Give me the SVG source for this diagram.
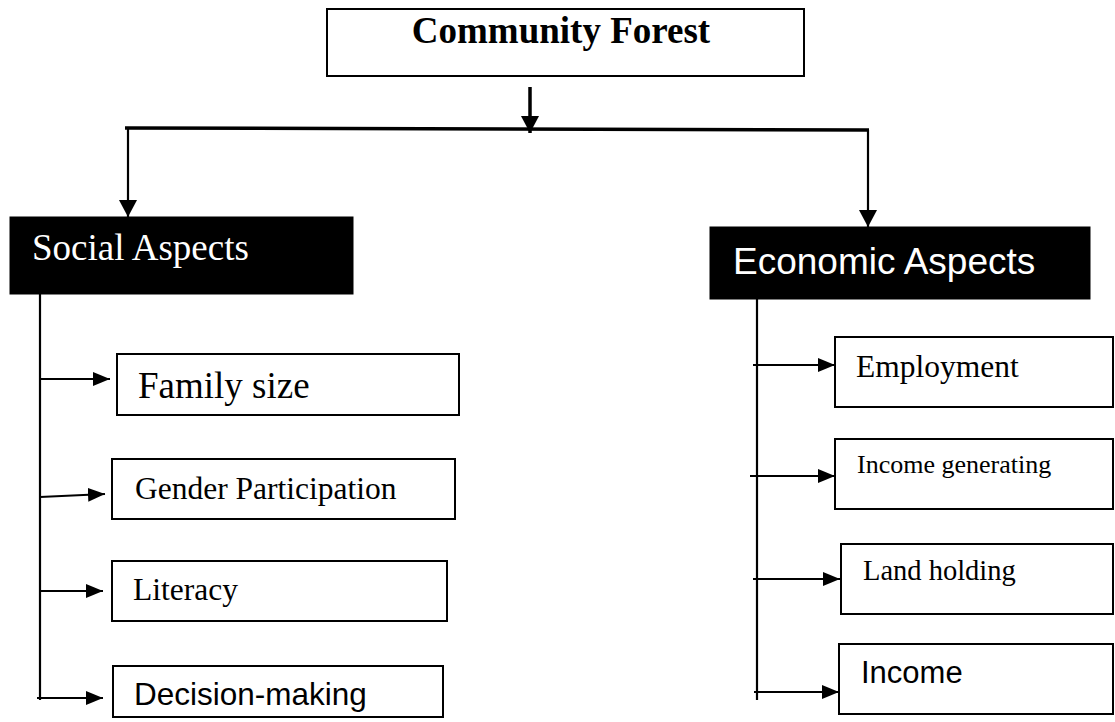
<svg xmlns="http://www.w3.org/2000/svg" width="1115" height="722" viewBox="0 0 1115 722">
  <style>
    .box { fill: #ffffff; stroke: #000000; stroke-width: 2; }
    .dark { fill: #000000; stroke: #000000; stroke-width: 1; }
    .serif { font-family: "Liberation Serif", "Times New Roman", serif; fill: #000000; }
    .sans { font-family: "Liberation Sans", Arial, sans-serif; fill: #000000; }
    .white { fill: #ffffff; }
    .conn { stroke: #000000; fill: none; stroke-width: 2.2; }
    .thick { stroke: #000000; fill: none; stroke-width: 3.5; }
  </style>
  <defs>
    <marker id="ah" markerUnits="userSpaceOnUse" markerWidth="17" markerHeight="14" refX="17" refY="7" orient="auto">
      <path d="M0,0 L17,7 L0,14 z" fill="#000000"/>
    </marker>
    <marker id="ahBig" markerUnits="userSpaceOnUse" markerWidth="17" markerHeight="18" refX="17" refY="9" orient="auto">
      <path d="M0,0 L17,9 L0,18 z" fill="#000000"/>
    </marker>
  </defs>
  <rect width="1115" height="722" fill="#ffffff"/>

  <g id="connectors">
    <line class="thick" x1="530" y1="87" x2="530" y2="133" marker-end="url(#ahBig)"/>
    <line class="thick" x1="125" y1="128" x2="869" y2="130"/>
    <line class="conn" x1="128" y1="128" x2="128" y2="217" marker-end="url(#ahBig)"/>
    <line class="conn" x1="868" y1="130" x2="868" y2="227" marker-end="url(#ahBig)"/>

    <line class="conn" x1="40" y1="294" x2="40" y2="700"/>
    <line class="conn" x1="40" y1="379" x2="110" y2="379" marker-end="url(#ah)"/>
    <line class="conn" x1="40" y1="497" x2="105" y2="494" marker-end="url(#ah)"/>
    <line class="conn" x1="40" y1="591" x2="103" y2="591" marker-end="url(#ah)"/>
    <line class="conn" x1="37" y1="698" x2="103" y2="698" marker-end="url(#ah)"/>

    <line class="conn" x1="757" y1="299" x2="757" y2="700"/>
    <line class="conn" x1="753" y1="365" x2="835" y2="365" marker-end="url(#ah)"/>
    <line class="conn" x1="750" y1="476" x2="835" y2="476" marker-end="url(#ah)"/>
    <line class="conn" x1="753" y1="579" x2="840" y2="579" marker-end="url(#ah)"/>
    <line class="conn" x1="754" y1="692" x2="839" y2="692" marker-end="url(#ah)"/>
  </g>

  <g id="community-forest">
    <rect class="box" x="327" y="9" width="477" height="67"/>
    <text class="serif" x="561" y="43" font-size="37" font-weight="bold" text-anchor="middle">Community Forest</text>
  </g>

  <g id="social-aspects">
    <rect class="dark" x="10" y="217" width="343" height="77"/>
    <text class="serif white" x="32" y="260" font-size="37">Social Aspects</text>
  </g>

  <g id="economic-aspects">
    <rect class="dark" x="710" y="227" width="380" height="72"/>
    <text class="sans white" x="733" y="274" font-size="37">Economic Aspects</text>
  </g>

  <g id="family-size">
    <rect class="box" x="117" y="354" width="342" height="61"/>
    <text class="serif" x="138" y="398" font-size="37">Family size</text>
  </g>

  <g id="gender-participation">
    <rect class="box" x="112" y="459" width="343" height="60"/>
    <text class="serif" x="135" y="499" font-size="31.5">Gender Participation</text>
  </g>

  <g id="literacy">
    <rect class="box" x="112" y="561" width="335" height="60"/>
    <text class="serif" x="133" y="600" font-size="31.5">Literacy</text>
  </g>

  <g id="decision-making">
    <rect class="box" x="113" y="666" width="330" height="51"/>
    <text class="sans" x="134" y="705" font-size="31.5">Decision-making</text>
  </g>

  <g id="employment">
    <rect class="box" x="835" y="337" width="278" height="70"/>
    <text class="serif" x="856" y="377" font-size="31.5">Employment</text>
  </g>

  <g id="income-generating">
    <rect class="box" x="835" y="439" width="278" height="70"/>
    <text class="serif" x="857" y="473" font-size="26">Income generating</text>
  </g>

  <g id="land-holding">
    <rect class="box" x="841" y="544" width="272" height="70"/>
    <text class="serif" x="863" y="580" font-size="28.5">Land holding</text>
  </g>

  <g id="income">
    <rect class="box" x="839" y="644" width="274" height="70"/>
    <text class="sans" x="861" y="683" font-size="31">Income</text>
  </g>
</svg>
